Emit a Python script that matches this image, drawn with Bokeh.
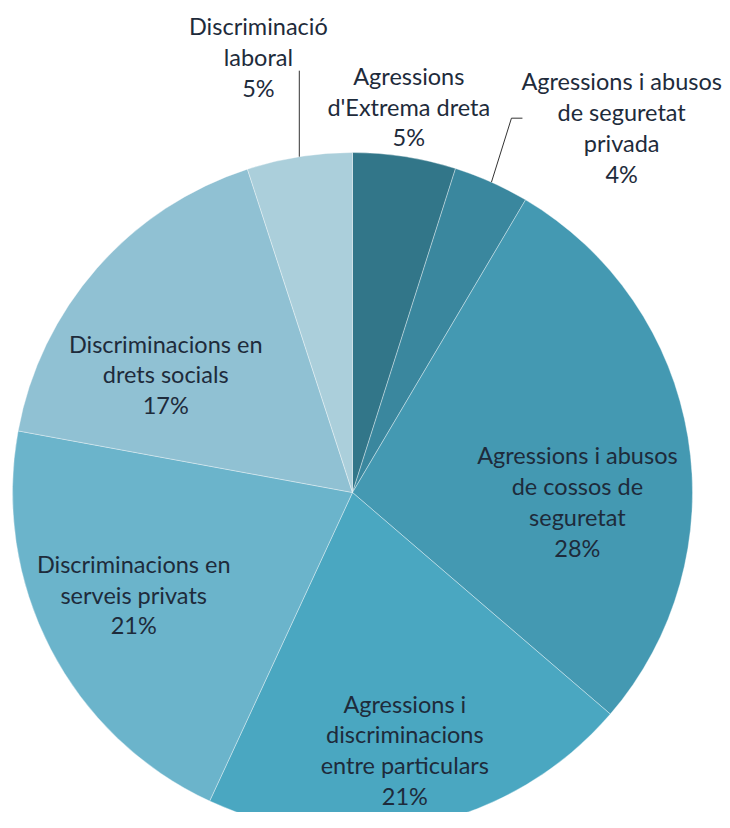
import math
from bokeh.plotting import figure
from bokeh.models import Range1d, ColumnDataSource
from bokeh.core.properties import value
from bokeh.embed import file_html
from bokeh.resources import INLINE

# ---- data (percent of cases) ----
categories = [
    "Agressions\nd'Extrema dreta",
    "Agressions i abusos\nde seguretat\nprivada",
    "Agressions i abusos\nde cossos de\nseguretat",
    "Agressions i\ndiscriminacions\nentre particulars",
    "Discriminacions en\nserveis privats",
    "Discriminacions en\ndrets socials",
    "Discriminació\nlaboral",
]
shares = [4.9, 3.6, 27.8, 20.6, 21.0, 17.1, 5.0]
colors = ["#327689", "#3a879e", "#4499b2", "#4aa7c1", "#6bb4cb", "#90c1d3", "#abcfdb"]

# ---- layout (pixels, y measured downward as negative data) ----
CX, CY, R = 352, -492, 340
# label placement: angle clockwise from 12 o'clock (deg), distance as fraction of radius
label_angle = [8.3, 36.4, 92.3, 168.5, 245.0, 302.3, 347.8]
label_dist = [1.147, 1.334, 0.662, 0.772, 0.71, 0.65, 1.31]

total = sum(shares)
starts, ends, mids = [], [], []
acc = 0.0
for s in shares:
    a0 = acc / total * 2 * math.pi
    acc += s
    a1 = acc / total * 2 * math.pi
    starts.append(math.pi / 2 - a0)
    ends.append(math.pi / 2 - a1)
    mids.append((a0 + a1) / 2)

labels = [f"{c}\n{round(s)}%" for c, s in zip(categories, shares)]
lx = [CX + d * R * math.sin(math.radians(a)) for a, d in zip(label_angle, label_dist)]
ly = [CY + d * R * math.cos(math.radians(a)) for a, d in zip(label_angle, label_dist)]

p = figure(width=722, height=812, output_backend="svg", toolbar_location=None,
           x_range=Range1d(0, 722), y_range=Range1d(-812, 0), min_border=0)
p.axis.visible = False
p.grid.visible = False
p.outline_line_color = None
p.background_fill_color = "white"
p.border_fill_color = "white"

src = ColumnDataSource(dict(start=starts, end=ends, color=colors))
p.wedge(x=CX, y=CY, radius=R, start_angle="start", end_angle="end", direction="clock",
        fill_color="color", line_color="white", line_alpha=0.45, line_width=0.8, source=src)

# leader lines for the two small outside labels
m2 = mids[1]
x2 = CX + R * math.sin(m2)
y2 = CY + R * math.cos(m2)
p.line([x2, x2 + 20, x2 + 31], [y2, y2 + 64, y2 + 64], line_color="#333333", line_width=1)
m7 = mids[6]
x7 = CX + R * math.sin(m7)
y7 = CY + R * math.cos(m7)
p.line([x7, x7], [y7, y7 + 86], line_color="#333333", line_width=1)

p.text(x=lx, y=ly, text=labels, text_align="center", text_baseline="middle",
       text_font=value("Lato"), text_font_size="23.5px", text_line_height=1.10,
       text_color="#1e2b3b")

open("out.html", "w").write(file_html(p, INLINE))
